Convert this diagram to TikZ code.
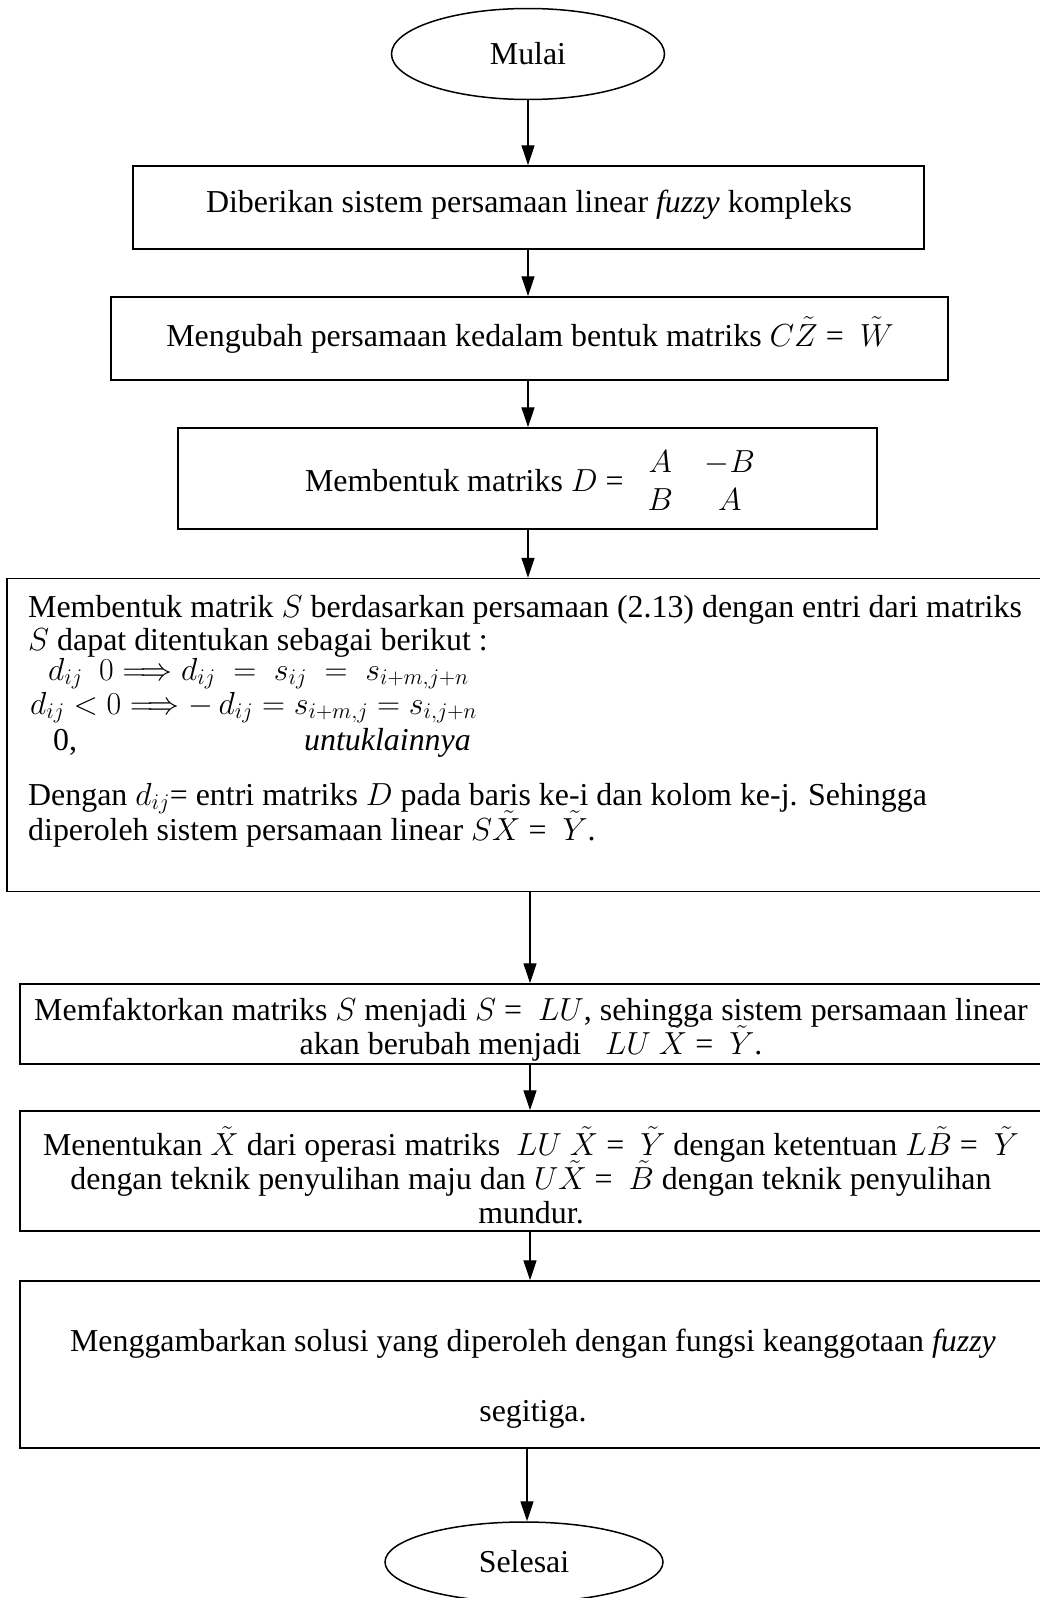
\RequirePackage{fix-cm}
\documentclass[tikz,border=0pt]{standalone}
\usepackage{fontspec}
\setmainfont{Liberation Serif}
\usetikzlibrary{arrows.meta,shapes.geometric}
\newcommand\myfnt{\fontsize{31.9}{34}\selectfont\lineskiplimit=-100pt\relax}
\newcommand\myfntwide{\fontsize{31.9}{70}\selectfont\lineskiplimit=-100pt\relax}
\newcommand\myfntplain{\fontsize{31.9}{34}\selectfont}
\begin{document}
\begin{tikzpicture}[x=1pt,y=-1pt,
  every node/.style={font=\myfnt},
  box/.style={draw, line width=1.5pt, rectangle, inner sep=0pt},
  term/.style={draw, line width=1.5pt, ellipse, inner sep=0pt},
  arr/.style={line width=1.3pt, -{Triangle[length=20pt,width=13pt]}},
  txt/.style={inner sep=0pt, align=center},
  ltxt/.style={inner sep=0pt, anchor=base west}]
\useasboundingbox (0,0) rectangle (1039,1598);
\fill[white] (0,0) rectangle (1039,1598);

% shapes
\node[term, minimum width=273pt, minimum height=91pt] (start) at (528,54) {Mulai};
\node[box, minimum width=791pt, minimum height=83pt] (b1) at (528.5,207.5) {};
\node[box, minimum width=837pt, minimum height=83pt] (b2) at (529.5,338.5) {};
\node[box, minimum width=699pt, minimum height=101pt] (b3) at (527.5,478.5) {};
\node[box, minimum width=1043pt, minimum height=313pt] (b4) at (528.5,735) {};
\node[box, minimum width=1030pt, minimum height=80pt] (b5) at (535,1024) {};
\node[box, minimum width=1030pt, minimum height=120pt] (b6) at (535,1171) {};
\node[box, minimum width=1030pt, minimum height=167pt] (b7) at (535,1364.5) {};
\node[term, minimum width=278pt, minimum height=80pt] (stop) at (524,1562) {Selesai};

% texts
\node[txt] (t1) at (529,205) {Diberikan sistem persamaan linear \textit{fuzzy} kompleks};
\node[txt] (t2) at (530,335) {Mengubah persamaan kedalam bentuk matriks $C\tilde{Z}$ = \ $\tilde{W}$};
\node[txt, font=\myfntplain] (t3) at (530,484) {Membentuk matriks $D$ = \ \ $\renewcommand\arraystretch{1.1}\begin{array}{@{}c@{\quad}c@{}} A & -B\\ B & A\end{array}$};

\node[ltxt] (l1) at (28,617) {Membentuk matrik $S$ berdasarkan persamaan (2.13) dengan entri dari matriks};
\node[ltxt] (l2) at (28,650) {$S$ dapat ditentukan sebagai berikut :};
\node[ltxt] (l3a) at (48,680) {$d_{ij}$};
\node[ltxt] (l3b) at (99,680) {$0 \Longrightarrow d_{ij}\;=\;s_{ij}\;=\;s_{i+m,j+n}$};
\node[ltxt] (l4) at (30,714) {$d_{ij} < 0 \Longrightarrow -\,d_{ij} = s_{i+m,j} = s_{i,j+n}$};
\node[ltxt] (l5a) at (53,750) {0,};
\node[ltxt] (l5b) at (304,750) {\textit{untuklainnya}};
\node[ltxt] (l6) at (28,805) {Dengan $d_{ij}$= entri matriks $D$ pada baris ke-i dan kolom ke-j. Sehingga};
\node[ltxt] (l7) at (28,840) {diperoleh sistem persamaan linear $S\tilde{X}$ = \ $\tilde{Y}$.};

\node[txt] (t5) at (531,1030) {Memfaktorkan matriks $S$ menjadi $S$ = \ $LU$, sehingga sistem persamaan linear\\ akan berubah menjadi \ \ $LU\ \tilde{X}$ = \ $\tilde{Y}$.};
\node[txt] (t6) at (531,1175) {Menentukan $\tilde{X}$ dari operasi matriks \ $LU\ \tilde{X}$ = \ $\tilde{Y}$ dengan ketentuan $L\tilde{B}$ = \ $\tilde{Y}$\\ dengan teknik penyulihan maju dan $U\tilde{X}$ = \ $\tilde{B}$ dengan teknik penyulihan\\ mundur.};
\node[txt, font=\myfntwide] (t7) at (533,1379) {Menggambarkan solusi yang diperoleh dengan fungsi keanggotaan \textit{fuzzy}\\ segitiga.};

% connectors
\coordinate (xa) at (528,0);
\coordinate (xb) at (530,0);
\coordinate (xc) at (527,0);
\draw[arr] (start.south -| xa) -- (b1.north -| xa);
\draw[arr] (b1.south -| xa) -- (b2.north -| xa);
\draw[arr] (b2.south -| xa) -- (b3.north -| xa);
\draw[arr] (b3.south -| xa) -- (b4.north -| xa);
\draw[arr] (b4.south -| xb) -- (b5.north -| xb);
\draw[arr] (b5.south -| xb) -- (b6.north -| xb);
\draw[arr] (b6.south -| xb) -- (b7.north -| xb);
\draw[arr] (b7.south -| xc) -- (stop.north -| xc);
\end{tikzpicture}
\end{document}
